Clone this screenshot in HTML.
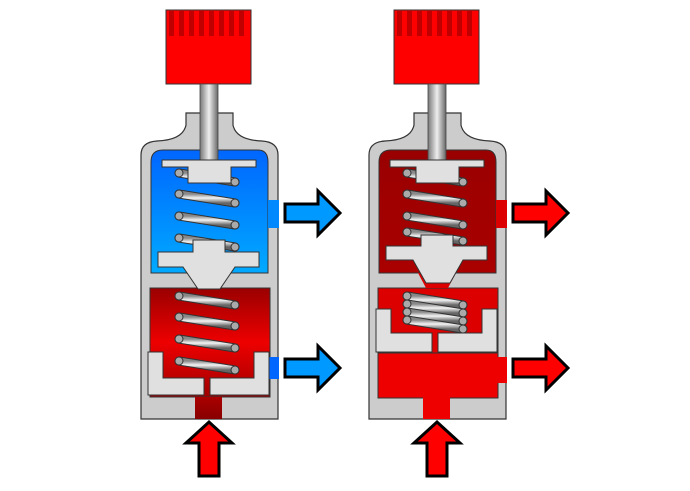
<!DOCTYPE html>
<html><head><style>html,body{margin:0;padding:0;background:#fff}svg{display:block}</style></head><body>
<svg width="690" height="491" viewBox="0 0 690 491" xmlns="http://www.w3.org/2000/svg">
<defs>
<linearGradient id="stem" x1="0" x2="1" y1="0" y2="0"><stop offset="0" stop-color="#777"/><stop offset="0.5" stop-color="#eee"/><stop offset="1" stop-color="#666"/></linearGradient>
<linearGradient id="coil" x1="0" x2="0" y1="0" y2="1"><stop offset="0" stop-color="#888"/><stop offset="0.45" stop-color="#f4f4f4"/><stop offset="1" stop-color="#666"/></linearGradient>
<linearGradient id="blue" x1="0" x2="0" y1="0" y2="1"><stop offset="0" stop-color="#0066ff"/><stop offset="1" stop-color="#00aaff"/></linearGradient>
<linearGradient id="redL" x1="0" x2="0" y1="0" y2="1"><stop offset="0" stop-color="#9a0000"/><stop offset="0.5" stop-color="#ee0000"/><stop offset="1" stop-color="#a00000"/></linearGradient>
<linearGradient id="redU" x1="0" x2="0" y1="0" y2="1"><stop offset="0" stop-color="#990000"/><stop offset="1" stop-color="#aa0000"/></linearGradient>
<linearGradient id="port" x1="0" x2="0" y1="0" y2="1"><stop offset="0" stop-color="#aa0000"/><stop offset="1" stop-color="#880000"/></linearGradient>
<g id="coilL"><line x1="179" y1="0" x2="235" y2="9" stroke="#333" stroke-width="9" stroke-linecap="round"/><line x1="179" y1="0" x2="235" y2="9" stroke="url(#coil)" stroke-width="7" stroke-linecap="round"/><circle cx="179" cy="0" r="4" fill="#aaa" stroke="#333" stroke-width="1"/><circle cx="235" cy="9" r="4" fill="#aaa" stroke="#333" stroke-width="1"/></g>
<g id="knob"><rect x="166" y="10" width="85" height="74" fill="#ff0000" stroke="#333" stroke-width="1"/>
<g fill="#c00000"><rect x="169" y="11" width="5" height="25"/><rect x="179" y="11" width="5" height="25"/><rect x="189" y="11" width="5" height="25"/><rect x="199" y="11" width="5" height="25"/><rect x="209" y="11" width="5" height="25"/><rect x="219" y="11" width="5" height="25"/><rect x="229" y="11" width="5" height="25"/><rect x="239" y="11" width="5" height="25"/></g>
<path d="M186 113 H233 V125 Q236 140 262 141 Q278 142 278 155 V419 H141 V155 Q141 142 157 141 Q183 140 186 125 Z" fill="#cccccc" stroke="#333" stroke-width="1.2"/></g>
<g id="arrowR"><path d="M285 204 H318 V191 L340 213 L318 235 V222 H285 Z" stroke="#000" stroke-width="3" stroke-linejoin="miter"/></g>
<g id="arrowU"><path d="M199 476 V443 H186 L209 422 L232 443 H219 V476 Z" fill="#ff0000" stroke="#000" stroke-width="3"/></g>
</defs>

<!-- LEFT VALVE -->
<use href="#knob"/>
<path d="M151 162 Q151 150 163 150 H258 Q268 150 268 162 V273 H151 Z" fill="url(#blue)" stroke="#333" stroke-width="1"/>
<rect x="268" y="200" width="11" height="28" fill="#0088ff"/>
<rect x="150" y="288" width="120" height="109" fill="url(#redL)" stroke="#333" stroke-width="1"/>
<rect x="268" y="357" width="11" height="22" fill="#0066ff"/>
<rect x="195" y="397" width="27" height="22" fill="url(#port)"/>
<rect x="200" y="84" width="18" height="76" fill="url(#stem)" stroke="#444" stroke-width="0.8"/>
<use href="#coilL" y="173"/><use href="#coilL" y="194"/><use href="#coilL" y="216"/><use href="#coilL" y="238"/>
<path d="M162 160 H256 V167 H231 V183 H188 V167 H162 Z" fill="#e0e0e0" stroke="#333" stroke-width="1"/>
<path d="M193 240 H225 V252 H259 V267 H235 L220 289 H198 L183 267 H158 V252 H193 Z" fill="#e0e0e0" stroke="#333" stroke-width="1"/>
<use href="#coilL" y="296"/><use href="#coilL" y="317"/><use href="#coilL" y="339"/><use href="#coilL" y="361"/>
<path d="M148 352 H163 V378 H204 V395 H148 Z" fill="#e0e0e0" stroke="#333" stroke-width="1"/>
<path d="M254 352 H269 V395 H210 V378 H254 Z" fill="#e0e0e0" stroke="#333" stroke-width="1"/>
<use href="#arrowR" fill="#0099ff"/>
<use href="#arrowR" y="155" fill="#0099ff"/>
<use href="#arrowU"/>

<!-- RIGHT VALVE -->
<g transform="translate(228,0)">
<use href="#knob"/>
<path d="M151 162 Q151 150 163 150 H258 Q268 150 268 162 V273 H151 Z" fill="url(#redU)" stroke="#333" stroke-width="1"/>
<rect x="268" y="200" width="11" height="28" fill="#dd0000"/>
<path d="M150 288 H270 V353 H150 Z" fill="#dd0000" stroke="#333" stroke-width="1"/>
<path d="M150 353 H270 V398 H150 Z" fill="#ee0000" stroke="#333" stroke-width="1"/>
<rect x="268" y="357" width="11" height="26" fill="#ee0000"/>
<rect x="195" y="397" width="27" height="22" fill="#ee0000"/>
<path d="M190 273 L198 288 H220 L228 273 Z" fill="#dd0000"/>
<rect x="200" y="84" width="18" height="76" fill="url(#stem)" stroke="#444" stroke-width="0.8"/>
<use href="#coilL" y="173"/><use href="#coilL" y="194"/><use href="#coilL" y="216"/><use href="#coilL" y="232"/>
<path d="M162 160 H256 V167 H231 V183 H188 V167 H162 Z" fill="#e0e0e0" stroke="#333" stroke-width="1"/>
<path d="M193 235 H225 V246 H259 V260 H235 L222 283 H198 L185 260 H158 V246 H193 Z" fill="#e0e0e0" stroke="#333" stroke-width="1"/>
<use href="#coilL" y="296"/><use href="#coilL" y="304"/><use href="#coilL" y="312"/><use href="#coilL" y="320"/>
<path d="M148 309 H163 V333 H204 V352 H148 Z" fill="#e0e0e0" stroke="#333" stroke-width="1"/>
<path d="M254 309 H269 V352 H210 V333 H254 Z" fill="#e0e0e0" stroke="#333" stroke-width="1"/>
<use href="#arrowR" fill="#ff0000"/>
<use href="#arrowR" y="155" fill="#ff0000"/>
<use href="#arrowU"/>
</g>
</svg>
</body></html>
